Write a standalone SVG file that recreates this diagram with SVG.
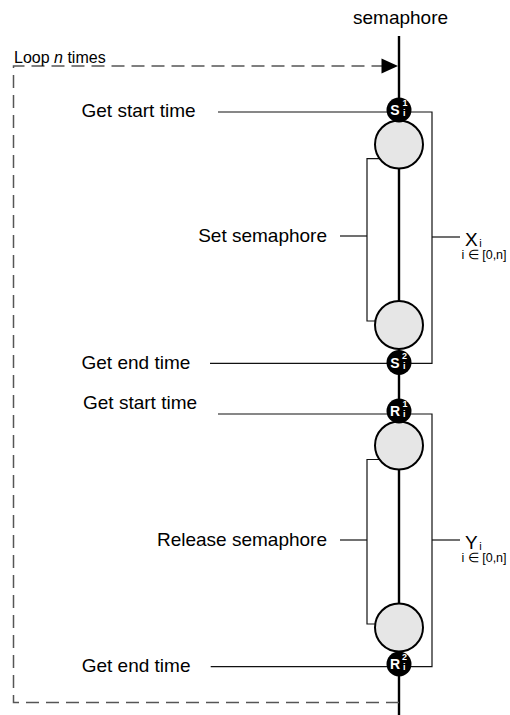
<svg xmlns="http://www.w3.org/2000/svg" width="510" height="715" viewBox="0 0 510 715">
  <defs>
    <style>
      .lbl { font-family: "Liberation Sans", Arial, sans-serif; font-size: 19px; fill: #000; }
      .small { font-family: "Liberation Sans", Arial, sans-serif; font-size: 12.5px; fill: #000; }
      .loop { font-family: "Liberation Sans", Arial, sans-serif; font-size: 16px; fill: #000; }
      .wire { fill: none; stroke: #111; stroke-width: 1.2; }
      .spine { fill: none; stroke: #000; stroke-width: 2.4; }
      .dash { fill: none; stroke: #555; stroke-width: 1.5; stroke-dasharray: 13 7; }
      .big { fill: #e6e6e6; stroke: #000; stroke-width: 2; }
      .dot { fill: #000; }
      .mk { font-family: "Liberation Sans", Arial, sans-serif; font-weight: bold; fill: #fff; }
    </style>
  </defs>

  <rect width="510" height="715" fill="#fff"/>

  <!-- connectors -->
  <g id="connectors">
    <!-- semaphore timeline -->
    <line class="spine" x1="399" y1="36" x2="399" y2="715"/>
    <!-- loop back -->
    <path class="dash" d="M399,702.5 H13.5 V66 H384"/>
    <polygon points="381.5,58.5 398,66 381.5,73.5" fill="#000"/>
    <!-- set phase: timing bracket -->
    <path class="wire" d="M218,112 H432 V363.3 H210"/>
    <line class="wire" x1="432" y1="237" x2="460" y2="237"/>
    <!-- set phase: operation bracket -->
    <path class="wire" d="M399,158.7 H367 V321 H399"/>
    <line class="wire" x1="340" y1="236" x2="367" y2="236"/>
    <!-- release phase: timing bracket -->
    <path class="wire" d="M218,414 H432 V666.7 H210.7"/>
    <line class="wire" x1="432" y1="540" x2="460" y2="540"/>
    <!-- release phase: operation bracket -->
    <path class="wire" d="M399,459.5 H367 V624 H399"/>
    <line class="wire" x1="340" y1="540" x2="367" y2="540"/>
  </g>

  <!-- labels -->
  <g id="labels">
    <text class="lbl" x="353" y="24">semaphore</text>
    <text class="loop" x="14" y="63">Loop <tspan font-style="italic">n</tspan> times</text>
    <text class="lbl" x="81.5" y="117">Get start time</text>
    <text class="lbl" x="327" y="242" text-anchor="end">Set semaphore</text>
    <text class="lbl" x="81.5" y="369">Get end time</text>
    <text class="lbl" x="83" y="409">Get start time</text>
    <text class="lbl" x="327" y="546" text-anchor="end">Release semaphore</text>
    <text class="lbl" x="81.7" y="672">Get end time</text>
  </g>

  <g id="x-label">
    <text class="lbl" x="465" y="246" font-size="18">X<tspan font-size="11" dy="1" dx="1.5">i</tspan></text>
    <text class="small" x="461.5" y="259">i ∈ [0,n]</text>
  </g>
  <g id="y-label">
    <text class="lbl" x="465" y="549" font-size="18">Y<tspan font-size="11" dy="1" dx="1.5">i</tspan></text>
    <text class="small" x="461.5" y="562">i ∈ [0,n]</text>
  </g>

  <!-- operation nodes -->
  <g id="set-begin"><circle class="big" cx="399" cy="144.5" r="24"/></g>
  <g id="set-end"><circle class="big" cx="399" cy="325" r="24"/></g>
  <g id="release-begin"><circle class="big" cx="399" cy="445.5" r="24"/></g>
  <g id="release-end"><circle class="big" cx="399" cy="627.5" r="24"/></g>

  <!-- timestamp markers -->
  <g id="s1">
    <circle class="dot" cx="399" cy="110" r="12.5"/>
    <text class="mk" x="395" y="115" font-size="14" text-anchor="middle">S</text>
    <text class="mk" x="402.5" y="106" font-size="9">1</text>
    <text class="mk" x="403" y="116" font-size="9">i</text>
  </g>
  <g id="s2">
    <circle class="dot" cx="399" cy="362.5" r="12.5"/>
    <text class="mk" x="395" y="367.5" font-size="14" text-anchor="middle">S</text>
    <text class="mk" x="402" y="358.5" font-size="9">2</text>
    <text class="mk" x="403" y="368.5" font-size="9">i</text>
  </g>
  <g id="r1">
    <circle class="dot" cx="399" cy="411" r="12.5"/>
    <text class="mk" x="395" y="416" font-size="14" text-anchor="middle">R</text>
    <text class="mk" x="402.5" y="407" font-size="9">1</text>
    <text class="mk" x="403" y="417" font-size="9">i</text>
  </g>
  <g id="r2">
    <circle class="dot" cx="399" cy="664" r="12.5"/>
    <text class="mk" x="395" y="669" font-size="14" text-anchor="middle">R</text>
    <text class="mk" x="402" y="660" font-size="9">2</text>
    <text class="mk" x="403" y="670" font-size="9">i</text>
  </g>
</svg>
